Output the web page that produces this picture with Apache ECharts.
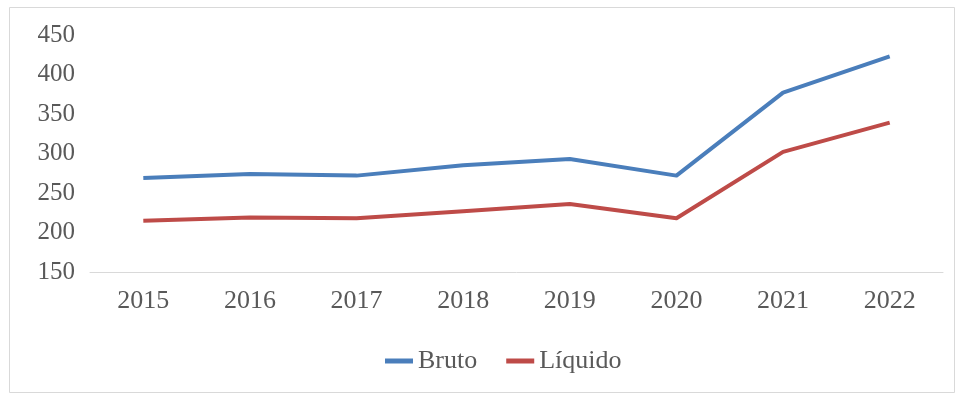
<!DOCTYPE html>
<html>
<head>
<meta charset="utf-8">
<script src="https://cdn.jsdelivr.net/npm/echarts@6/dist/echarts.min.js"></script>
<style>
html,body{margin:0;padding:0;background:#fff;}
#c{width:959px;height:394px;}
</style>
</head>
<body>
<div id="c"></div>
<script>
const categories = ['2015','2016','2017','2018','2019','2020','2021','2022'];
const bruto = [269, 274, 272, 285, 293, 272, 377, 423];
const liquido = [215, 219, 218, 227, 236, 218, 302, 339];
const seriesNames = ['Bruto', 'Líquido'];

const font = '"Liberation Serif", "Times New Roman", serif';
const chart = echarts.init(document.getElementById('c'));
chart.setOption({
  animation: false,
  backgroundColor: '#fff',
  graphic: [{
    type: 'rect',
    shape: {x: 9.5, y: 7.5, width: 945, height: 385},
    style: {fill: 'none', stroke: '#d9d9d9', lineWidth: 1},
    silent: true
  }],
  grid: {left: 90, right: 16, top: 35, bottom: 122},
  legend: {
    data: seriesNames,
    left: 380,
    top: 343,
    icon: 'rect',
    itemWidth: 28,
    itemHeight: 5,
    itemGap: 29,
    textStyle: {fontFamily: font, fontSize: 26, color: '#595959'}
  },
  xAxis: {
    type: 'category',
    data: categories,
    boundaryGap: true,
    axisLine: {lineStyle: {color: '#d9d9d9', width: 1}},
    axisTick: {show: false},
    axisLabel: {fontFamily: font, fontSize: 26, color: '#595959', margin: 16}
  },
  yAxis: {
    type: 'value',
    min: 150, max: 450, interval: 50,
    axisLine: {show: false},
    axisTick: {show: false},
    splitLine: {show: false},
    axisLabel: {fontFamily: font, fontSize: 25, color: '#595959', margin: 15}
  },
  series: [
    {name: seriesNames[0], type: 'line', data: bruto, symbol: 'none',
     lineStyle: {color: '#4a7ebb', width: 4, join: 'round'}, itemStyle: {color: '#4a7ebb'}},
    {name: seriesNames[1], type: 'line', data: liquido, symbol: 'none',
     lineStyle: {color: '#be4b48', width: 4, join: 'round'}, itemStyle: {color: '#be4b48'}}
  ]
});
</script>
</body>
</html>
